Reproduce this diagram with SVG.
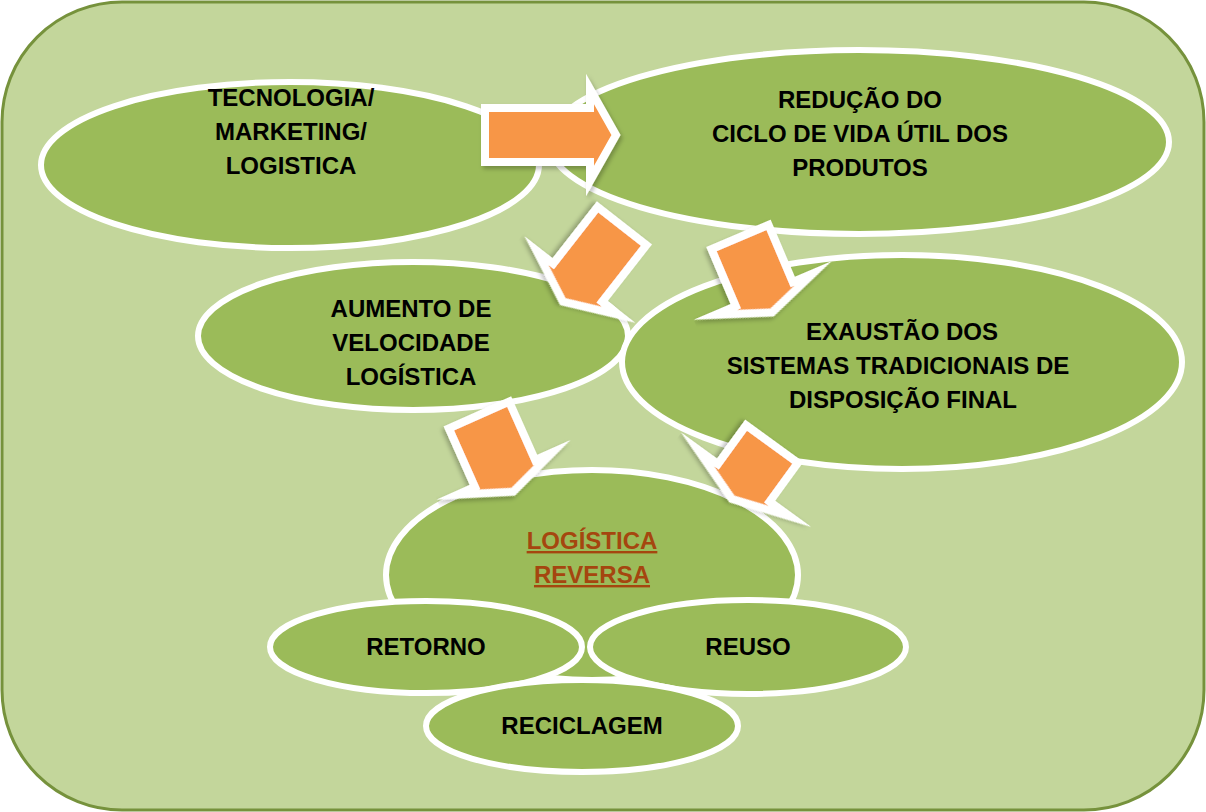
<svg xmlns="http://www.w3.org/2000/svg" width="1206" height="812" viewBox="0 0 1206 812">
  <defs>
    <filter id="sh" x="-20%" y="-20%" width="140%" height="140%">
      <feDropShadow dx="2" dy="3" stdDeviation="2" flood-color="#000" flood-opacity="0.25"/>
    </filter>
  </defs>
  <style>
    .bg { fill: #C3D69B; stroke: #76923C; stroke-width: 3; }
    .el { fill: #9BBB59; stroke: #FFFFFF; stroke-width: 6; }
    .ar { fill: #F79646; stroke: #FFFFFF; stroke-width: 8; stroke-linejoin: miter; stroke-miterlimit: 12; filter: url(#sh); }
    .t { font-family: "Liberation Sans", Arial, sans-serif; font-weight: bold; font-size: 24px; fill: #000; text-anchor: middle; }
    .lr { fill: #A5460F; text-decoration: underline; }
  </style>
  <rect class="bg" x="2" y="2" width="1202" height="808" rx="120" ry="120"/>

  <g id="n1">
    <ellipse class="el" cx="290" cy="165" rx="249" ry="83"/>
    <text class="t" x="291" y="106">TECNOLOGIA/</text>
    <text class="t" x="291" y="140">MARKETING/</text>
    <text class="t" x="291" y="174">LOGISTICA</text>
  </g>
  <g id="n2">
    <ellipse class="el" cx="859" cy="142" rx="310" ry="92"/>
    <text class="t" x="860" y="108">REDUÇÃO DO</text>
    <text class="t" x="860" y="142">CICLO DE VIDA ÚTIL DOS</text>
    <text class="t" x="860" y="176">PRODUTOS</text>
  </g>
  <g id="connectors">
    <polygon class="ar" points="0,-27 105,-27 105,-46 131,0 105,46 105,27 0,27" transform="translate(485,135)"/>
  </g>
  <g id="n3">
    <ellipse class="el" cx="413" cy="336" rx="215" ry="74"/>
    <text class="t" x="411" y="317">AUMENTO DE</text>
    <text class="t" x="411" y="351">VELOCIDADE</text>
    <text class="t" x="411" y="385">LOGÍSTICA</text>
  </g>
  <g id="n4">
    <ellipse class="el" cx="902" cy="362" rx="280" ry="107"/>
    <text class="t" x="902" y="340">EXAUSTÃO DOS</text>
    <text class="t" x="898" y="374">SISTEMAS TRADICIONAIS DE</text>
    <text class="t" x="903" y="408">DISPOSIÇÃO FINAL</text>
  </g>
  <g id="connectors2">
    <polygon class="ar" points="0,-31 72,-31 72,-52 96,0 72,52 72,31 0,31" transform="translate(622,226) rotate(128)"/>
    <polygon class="ar" points="0,-31 62,-31 62,-53 82,0 62,53 62,31 0,31" transform="translate(740,237) rotate(67)"/>
  </g>
  <g id="n5">
    <ellipse class="el" cx="592" cy="575" rx="206" ry="105"/>
    <text class="t lr" x="592" y="549">LOGÍSTICA</text>
    <text class="t lr" x="592" y="583">REVERSA</text>
  </g>
  <g id="connectors3">
    <polygon class="ar" points="0,-33 64,-33 64,-52 84,0 64,52 64,33 0,33" transform="translate(479,415) rotate(66)"/>
    <polygon class="ar" points="0,-32 48,-32 48,-57 68,0 48,57 48,32 0,32" transform="translate(772,444) rotate(126)"/>
  </g>
  <g id="n6">
    <ellipse class="el" cx="426" cy="647" rx="156" ry="46"/>
    <text class="t" x="426" y="655">RETORNO</text>
  </g>
  <g id="n7">
    <ellipse class="el" cx="748" cy="647" rx="158" ry="47"/>
    <text class="t" x="748" y="655">REUSO</text>
  </g>
  <g id="n8">
    <ellipse class="el" cx="582" cy="726" rx="156" ry="46"/>
    <text class="t" x="582" y="734">RECICLAGEM</text>
  </g>
</svg>
